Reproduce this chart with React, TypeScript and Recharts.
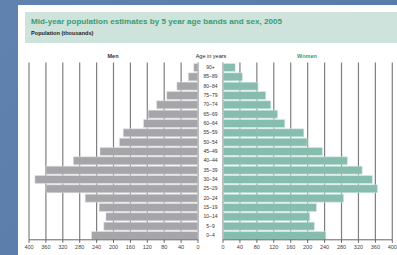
import { BarChart, Bar, XAxis, YAxis, CartesianGrid } from 'recharts';

const ages = ['90+', '85–89', '80–84', '75–79', '70–74', '65–69', '60–64', '55–59', '50–54', '45–49', '40–44', '35–39', '30–34', '25–29', '20–24', '15–19', '10–14', '5–9', '0–4'];
const men = [10, 23, 50, 74, 98, 118, 129, 177, 186, 232, 295, 360, 386, 360, 267, 234, 218, 223, 252];
const women = [29, 46, 83, 101, 113, 129, 146, 191, 199, 235, 294, 329, 353, 365, 285, 221, 205, 216, 243];
const ticks = [0, 40, 80, 120, 160, 200, 240, 280, 320, 360, 400];

const data = ages.map((age, i) => ({ age, men: men[i], women: women[i] }));

const font = '"Liberation Sans", Arial, sans-serif';
const tickStyle = { fontSize: 5.5, fill: '#444', fontFamily: font };

const AgeTick = (props: any) => (
  <text x={12.5} y={props.y} dy={2} textAnchor="middle" fontSize={5} fill="#333" fontFamily={font}>
    {props.payload.value}
  </text>
);

export default function App() {
  return (
    <div style={{ position: 'absolute', left: 0, top: 0, width: 397, height: 255, overflow: 'hidden', background: 'linear-gradient(135deg, #5f83ae 0%, #5a7ea9 50%, #4f76a2 100%)', fontFamily: font }}>
      <div style={{ position: 'absolute', left: 18, top: 5, width: 379, height: 250, background: '#fff' }} />
      <div style={{ position: 'absolute', left: 25, top: 12, width: 372, height: 31, background: '#cde3dc' }} />
      <div style={{ position: 'absolute', left: 31, top: 16.5, fontSize: 8.1, fontWeight: 'bold', color: '#3a9c70', whiteSpace: 'nowrap' }}>
        Mid-year population estimates by 5 year age bands and sex, 2005
      </div>
      <div style={{ position: 'absolute', left: 31, top: 29.5, fontSize: 5.6, fontWeight: 'bold', color: '#222', whiteSpace: 'nowrap' }}>
        Population (thousands)
      </div>
      <div style={{ position: 'absolute', left: 102, top: 53, width: 22, textAlign: 'center', fontSize: 5.5, fontWeight: 'bold', color: '#333' }}>Men</div>
      <div style={{ position: 'absolute', left: 191, top: 53, width: 40, textAlign: 'center', fontSize: 5.5, color: '#222', whiteSpace: 'nowrap' }}>Age in years</div>
      <div style={{ position: 'absolute', left: 292, top: 53, width: 30, textAlign: 'center', fontSize: 5.5, fontWeight: 'bold', color: '#3a9c70' }}>Women</div>

      <div style={{ position: 'absolute', left: 0, top: 0 }}>
        <BarChart width={200} height={255} data={data} layout="vertical" margin={{ top: 62.5, right: 2, bottom: 1.2, left: 29 }} barSize={8}>
          <CartesianGrid vertical horizontal={false} stroke="#7f7f7f" strokeWidth={1.2} />
          <XAxis type="number" domain={[0, 400]} ticks={ticks} reversed height={14} tick={tickStyle} tickSize={3} stroke="#666" interval={0} />
          <YAxis type="category" dataKey="age" hide />
          <Bar dataKey="men" fill="#a5a5aa" stroke="#e6e6e6" strokeWidth={0.5} isAnimationActive={false} />
        </BarChart>
      </div>
      <div style={{ position: 'absolute', left: 198, top: 0 }}>
        <BarChart width={199} height={255} data={data} layout="vertical" margin={{ top: 62.5, right: 4.7, bottom: 1.2, left: 0 }} barSize={8}>
          <CartesianGrid vertical horizontal={false} stroke="#7f7f7f" strokeWidth={1.2} />
          <XAxis type="number" domain={[0, 400]} ticks={ticks} height={14} tick={tickStyle} tickSize={3} stroke="#666" interval={0} />
          <YAxis type="category" dataKey="age" width={25} axisLine={false} tickLine={false} tick={<AgeTick />} interval={0} />
          <Bar dataKey="women" fill="#86bdaf" stroke="#e0efea" strokeWidth={0.5} isAnimationActive={false} />
        </BarChart>
      </div>
    </div>
  );
}
